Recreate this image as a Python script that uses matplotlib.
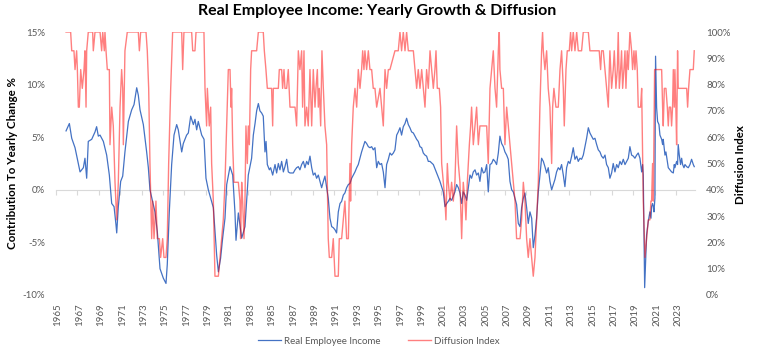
import numpy as np
import matplotlib
matplotlib.use("Agg")
import matplotlib.pyplot as plt
from matplotlib.ticker import FuncFormatter

plt.rcParams['font.family'] = ['Lato', 'DejaVu Sans']

# ---------------- data ----------------
income_years = [
    1965.94, 1966.25, 1966.47, 1966.78, 1967.09, 1967.25, 1967.56, 1967.71, 1967.87, 1968.02,
    1968.34, 1968.65, 1968.80, 1968.96, 1969.12, 1969.43, 1969.74, 1969.99, 1970.21, 1970.43,
    1970.61, 1970.68, 1970.83, 1971.05, 1971.24, 1971.45, 1971.77, 1972.08, 1972.30, 1972.55,
    1972.70, 1972.86, 1973.17, 1973.48, 1973.64, 1973.79, 1974.04, 1974.26, 1974.48, 1974.73,
    1975.04, 1975.29, 1975.41, 1975.60, 1975.82, 1976.04, 1976.29, 1976.44, 1976.76, 1976.91,
    1977.22, 1977.38, 1977.60, 1977.85, 1978.00, 1978.16, 1978.31, 1978.63, 1978.85, 1979.03,
    1979.25, 1979.47, 1979.72, 1980.03, 1980.19, 1980.40, 1980.59, 1980.81, 1980.97, 1981.28,
    1981.53, 1981.74, 1981.84, 1982.06, 1982.37, 1982.68, 1982.99,
    1983.15, 1983.30, 1983.46, 1983.62, 1983.77, 1983.93, 1984.08, 1984.24, 1984.39, 1984.55,
    1984.65, 1984.77, 1984.96, 1985.08, 1985.27, 1985.49, 1985.64, 1985.80, 1985.95, 1986.11,
    1986.27, 1986.42, 1986.58, 1986.73, 1986.89, 1987.20, 1987.36, 1987.51, 1987.67, 1987.82,
    1987.98, 1988.14, 1988.29, 1988.45, 1988.60, 1988.76, 1988.92, 1989.07, 1989.23, 1989.38,
    1989.54, 1989.70, 1989.85, 1990.01, 1990.16, 1990.32, 1990.47, 1990.63, 1990.79, 1990.94,
    1991.10, 1991.25, 1991.41, 1991.57, 1991.72, 1991.88, 1992.03, 1992.19, 1992.35, 1992.50,
    1992.66, 1992.81, 1992.97, 1993.13, 1993.28, 1993.44, 1993.59, 1993.75, 1993.90, 1994.06,
    1994.22, 1994.37, 1994.53, 1994.68, 1994.84, 1995.00, 1995.15, 1995.31, 1995.46, 1995.62,
    1995.78, 1995.93, 1996.09, 1996.24, 1996.40, 1996.56, 1996.71, 1996.87, 1997.02, 1997.18,
    1997.33, 1997.49, 1997.65, 1997.80, 1997.96, 1998.11, 1998.27, 1998.43, 1998.58, 1998.74,
    1998.89, 1999.05, 1999.21, 1999.36, 1999.52, 1999.67, 1999.83,
    1999.99, 2000.30, 2000.61, 2000.92, 2001.23, 2001.39, 2001.55, 2001.70, 2001.86, 2002.01,
    2002.17, 2002.32, 2002.48, 2002.64, 2002.79, 2002.95, 2003.10, 2003.26, 2003.42, 2003.57,
    2003.73, 2003.88, 2004.04, 2004.20, 2004.35, 2004.51, 2004.66, 2004.82, 2004.98, 2005.13,
    2005.29, 2005.44, 2005.60, 2005.75, 2005.91, 2006.07, 2006.22, 2006.38, 2006.53, 2006.69,
    2006.85, 2007.00, 2007.16, 2007.31, 2007.47, 2007.63, 2007.78, 2007.94, 2008.09, 2008.25,
    2008.41, 2008.56, 2008.72, 2008.87, 2009.03, 2009.18, 2009.34, 2009.50, 2009.65, 2009.81,
    2009.96, 2010.12, 2010.27, 2010.43, 2010.59, 2010.74, 2010.90, 2011.05, 2011.21, 2011.37,
    2011.52, 2011.68, 2011.83, 2011.99, 2012.15, 2012.30, 2012.46, 2012.61, 2012.77, 2012.93,
    2013.08, 2013.24, 2013.39, 2013.55, 2013.71, 2013.86, 2014.02, 2014.17, 2014.33, 2014.48,
    2014.64, 2014.80, 2014.95, 2015.11, 2015.26, 2015.42, 2015.58, 2015.73, 2015.89, 2016.04,
    2016.20, 2016.36, 2016.51, 2016.67, 2016.82,
    2016.98, 2017.13, 2017.29, 2017.45, 2017.60, 2017.76, 2017.91, 2018.07, 2018.23, 2018.38,
    2018.54, 2018.69, 2018.85, 2019.01, 2019.16, 2019.32, 2019.47, 2019.63, 2019.79, 2019.88,
    2019.94, 2020.00, 2020.07, 2020.19, 2020.25, 2020.41, 2020.56, 2020.66, 2020.72, 2020.81,
    2020.88, 2020.94, 2021.03, 2021.09, 2021.19, 2021.28, 2021.41, 2021.50, 2021.66, 2021.75,
    2021.81, 2021.97, 2022.06, 2022.19, 2022.28, 2022.44, 2022.59, 2022.75, 2022.84, 2022.90,
    2023.06, 2023.15, 2023.21, 2023.31, 2023.43, 2023.53, 2023.62, 2023.75, 2023.84, 2024.00,
    2024.15, 2024.31, 2024.46, 2024.62, 2024.71,
]
income_growth = [
    5.6, 6.3, 4.9, 4.0, 2.5, 1.7, 2.1, 3.0, 1.1, 4.6,
    4.8, 5.5, 6.0, 5.1, 5.2, 4.6, 3.3, 1.4, -1.3, -1.6,
    -3.3, -4.1, -1.6, 0.8, 1.3, 3.6, 6.5, 7.6, 8.1, 9.7,
    9.0, 7.6, 6.2, 3.6, 2.1, 0.0, -1.1, -2.1, -4.0, -7.5,
    -8.4, -8.9, -7.1, -2.1, 2.4, 5.2, 6.2, 5.7, 3.6, 4.4,
    5.2, 5.4, 7.0, 6.2, 6.7, 5.7, 6.5, 5.2, 4.8, 1.1,
    0.0, -0.8, -1.7, -6.2, -7.8, -6.5, -4.6, -2.7, 0.5, 2.2,
    1.4, -2.1, -4.8, -2.2, -4.6, -3.5, 1.4,
    2.2, 3.0, 5.2, 6.3, 7.5, 8.2, 7.5, 7.3, 7.0, 3.6,
    4.6, 2.4, 1.9, 2.1, 1.4, 2.4, 1.6, 2.5, 1.9, 2.7,
    1.7, 2.2, 2.9, 1.7, 1.6, 1.6, 1.9, 2.1, 2.2, 1.9,
    2.4, 2.7, 2.1, 2.7, 2.4, 3.2, 2.1, 1.4, 1.6, 1.1,
    1.4, 0.8, 0.2, 0.8, 1.3, 0.2, -0.8, -2.7, -3.5, -3.6,
    -3.8, -4.1, -2.1, -1.3, -1.1, -0.5, -0.3, 0.2, 0.5, 0.6,
    1.1, 1.4, 1.7, 2.1, 2.4, 3.0, 3.6, 4.1, 4.6, 4.4,
    4.1, 4.0, 4.1, 3.8, 4.0, 2.1, 2.7, 2.4, 2.5, 1.7,
    0.2, 2.4, 2.9, 3.5, 3.3, 3.5, 3.8, 5.2, 5.5, 5.9,
    5.2, 6.0, 6.3, 6.8, 6.2, 5.9, 5.5, 5.4, 5.1, 4.8,
    4.6, 4.1, 4.0, 3.5, 3.3, 3.2, 2.7,
    2.7, 2.4, 1.6, 0.8, -0.2, -1.6, -1.3, -1.1, -0.8, -1.0,
    -0.6, -0.2, 0.5, 0.2, -0.3, -1.3, -0.2, -0.5, -1.0, 0.2,
    1.4, 1.1, 1.7, 1.9, 1.4, 1.6, 0.8, 2.1, 1.6, 1.7,
    2.4, -0.2, 2.4, 2.5, 2.9, 2.7, 2.4, 3.5, 5.1, 4.4,
    4.1, 3.6, 3.3, 2.9, 0.8, 0.0, -0.2, -0.8, -1.4, -3.2,
    -3.5, -1.7, -0.8, -0.3, -1.7, -3.2, -2.1, -2.7, -5.5, -4.3,
    -2.7, -0.2, 1.4, 3.0, 2.7, 2.2, 1.6, 2.1, 0.8, 0.0,
    0.5, 1.0, 1.7, 2.1, 1.9, 2.4, 1.4, 0.3, 2.1, 2.7,
    2.5, 3.2, 4.0, 2.9, 3.2, 2.7, 3.0, 2.9, 3.3, 4.1,
    4.9, 5.9, 5.4, 5.1, 4.8, 4.9, 4.3, 3.8, 3.6, 3.2,
    3.0, 3.3, 2.4, 2.1, 1.1,
    1.6, 2.5, 1.7, 2.4, 2.1, 2.7, 2.4, 2.9, 2.4, 2.7,
    3.0, 4.1, 3.3, 3.2, 3.0, 3.3, 3.5, 3.0, 1.7, 2.4,
    1.4, -3.3, -9.3, -5.9, -4.3, -3.0, -2.1, -2.7, -1.6, -1.3,
    -1.6, -2.1, -0.8, 12.7, 7.8, 6.5, 6.2, 5.2, 4.8, 4.3,
    4.8, 3.3, 3.6, 2.7, 2.1, 1.9, 1.7, 1.6, 2.4, 2.1,
    2.7, 2.4, 4.3, 3.3, 2.4, 3.0, 2.4, 2.1, 2.4, 2.2,
    2.1, 2.4, 2.9, 2.4, 2.2,
]

# Diffusion index: number of components growing, out of 14
n_components = 14
diffusion_years = [
    1965.94, 1966.37, 1966.47, 1966.68, 1966.78, 1966.93, 1967.00, 1967.09, 1967.18, 1967.31,
    1967.46, 1967.62, 1967.71, 1967.81, 1967.87, 1968.02, 1968.43, 1968.49, 1968.65, 1969.12,
    1969.27, 1969.37, 1969.52, 1969.58, 1969.68, 1969.80, 1969.99, 1970.05, 1970.21, 1970.36,
    1970.52, 1970.68, 1970.83, 1970.99, 1971.14, 1971.24, 1971.30, 1971.45, 1971.67, 1972.70,
    1972.80, 1972.92, 1973.42, 1973.54, 1973.67, 1973.79, 1973.95, 1974.04, 1974.17, 1974.35,
    1974.48, 1974.67, 1974.79, 1974.98, 1975.10, 1975.29, 1975.41, 1975.54, 1975.73, 1975.91,
    1976.76, 1976.85, 1976.97, 1977.69, 1977.79, 1978.00, 1978.10, 1978.84, 1978.94, 1979.09,
    1979.16, 1979.34, 1979.47, 1979.56, 1979.72, 1979.87, 1980.19, 1980.34, 1980.50, 1980.65,
    1980.81, 1980.97, 1981.12,
    1981.28, 1981.37, 1981.43, 1981.53, 1981.65, 1982.06, 1982.21, 1982.27, 1982.37, 1982.46,
    1982.59, 1982.68, 1982.77, 1982.90, 1982.99, 1983.09, 1983.21, 1983.30, 1983.77, 1983.93,
    1984.39, 1984.49, 1984.64, 1984.77, 1985.17, 1985.27, 1985.33, 1985.80, 1985.89, 1986.11,
    1986.20, 1986.33, 1986.42, 1986.58, 1986.73, 1986.89, 1987.36, 1987.51, 1987.67, 1987.82,
    1987.98, 1988.07, 1988.20, 1988.29, 1988.45, 1988.60, 1988.76, 1988.92, 1989.07, 1989.23,
    1989.32, 1989.45, 1989.54, 1989.63, 1989.76, 1989.88, 1990.01, 1990.16, 1990.32, 1990.47,
    1990.57, 1990.79, 1990.94, 1991.10, 1991.41, 1991.50, 1991.72, 1991.88, 1992.03, 1992.19,
    1992.35, 1992.50, 1992.56, 1992.66, 1992.81, 1992.97, 1993.13, 1993.28, 1993.44, 1993.59,
    1993.69, 1993.81, 1993.90, 1994.06, 1994.22, 1994.37, 1994.53, 1994.68, 1994.84, 1995.00,
    1995.31, 1995.46, 1995.62, 1995.78, 1995.93, 1996.09, 1996.24, 1996.71, 1997.02, 1997.18,
    1997.33, 1997.49, 1997.65, 1997.80, 1997.96, 1998.43, 1998.58, 1998.74, 1998.89, 1999.05,
    1999.21, 1999.36, 1999.52, 1999.67, 1999.83,
    1999.99, 2000.14, 2000.30, 2000.45, 2000.55, 2000.67, 2000.86, 2000.98, 2001.08, 2001.23,
    2001.39, 2001.48, 2001.61, 2001.70, 2001.86, 2002.01, 2002.17, 2002.32, 2002.48, 2002.64,
    2002.79, 2002.95, 2003.10, 2003.26, 2003.35, 2003.48, 2003.67, 2003.79, 2003.88, 2004.04,
    2004.20, 2004.35, 2004.51, 2004.66, 2005.29, 2005.44, 2005.60, 2005.75, 2005.91, 2006.07,
    2006.22, 2006.38, 2006.47, 2006.53, 2006.69, 2006.85, 2007.00, 2007.16, 2007.31, 2007.47,
    2007.63, 2007.78, 2007.94, 2008.09, 2008.41, 2008.56, 2008.72, 2008.87, 2009.03, 2009.18,
    2009.34, 2009.50, 2009.65, 2009.81, 2009.96, 2010.12, 2010.27, 2010.43, 2010.52, 2010.59,
    2010.74, 2010.90, 2011.05, 2011.21, 2011.37, 2011.46, 2011.58, 2011.77, 2011.99, 2012.15,
    2012.30, 2012.46, 2012.55, 2012.71, 2012.83, 2013.02, 2013.14, 2013.24, 2013.39, 2013.55,
    2013.71, 2013.86, 2014.17, 2014.33, 2014.80, 2014.95, 2015.82, 2015.95, 2016.04, 2016.20,
    2016.36, 2016.51, 2016.67, 2016.76, 2016.82,
    2016.98, 2017.13, 2017.23, 2017.38, 2017.51, 2017.60, 2017.70, 2017.82, 2017.91, 2018.01,
    2018.13, 2018.23, 2018.32, 2018.44, 2018.54, 2018.69, 2018.85, 2018.94, 2019.07, 2019.16,
    2019.26, 2019.38, 2019.47, 2019.69, 2019.79, 2019.94, 2020.10, 2020.25, 2020.41, 2020.56,
    2020.66, 2020.72, 2020.81, 2020.88, 2021.00, 2021.66, 2021.75, 2021.81, 2021.91, 2022.06,
    2022.19, 2022.28, 2022.37, 2022.50, 2022.59, 2022.68, 2022.75, 2022.84, 2022.90, 2022.99,
    2023.06, 2023.15, 2023.21, 2023.37, 2024.00, 2024.09, 2024.18, 2024.31, 2024.62, 2024.71,
]
diffusion_counts = [
    14, 14, 13, 13, 12, 13, 12, 10, 10, 12,
    11, 12, 13, 10, 13, 14, 14, 13, 14, 14,
    13, 14, 13, 14, 13, 12, 12, 8, 10, 9,
    6, 4, 6, 10, 12, 11, 8, 13, 14, 14,
    13, 14, 14, 13, 11, 7, 3, 5, 3, 5,
    3, 3, 2, 3, 2, 2, 3, 7, 11, 14,
    14, 12, 14, 14, 13, 13, 14, 14, 11, 9,
    11, 9, 10, 7, 5, 1, 1, 2, 3, 4,
    6, 9, 12,
    12, 10, 11, 8, 6, 6, 5, 3, 6, 5,
    3, 5, 9, 7, 9, 8, 12, 13, 13, 14,
    14, 13, 12, 11, 11, 9, 11, 11, 12, 12,
    11, 12, 11, 11, 12, 10, 10, 9, 13, 12,
    13, 10, 13, 9, 10, 9, 12, 9, 12, 10,
    11, 12, 10, 11, 9, 13, 11, 9, 8, 3,
    2, 2, 3, 1, 1, 3, 3, 4, 5, 3,
    3, 7, 5, 8, 10, 11, 10, 12, 11, 12,
    13, 12, 13, 12, 13, 12, 12, 11, 11, 10,
    11, 10, 9, 12, 11, 12, 12, 13, 13, 14,
    13, 14, 13, 14, 13, 13, 12, 11, 12, 11,
    12, 11, 10, 12, 11,
    13, 12, 11, 12, 13, 11, 11, 10, 7, 6,
    5, 4, 7, 6, 5, 6, 5, 6, 9, 7,
    6, 3, 6, 5, 4, 6, 8, 9, 10, 8,
    9, 10, 8, 9, 9, 7, 11, 12, 13, 11,
    10, 13, 14, 12, 11, 11, 8, 10, 9, 8,
    7, 6, 5, 3, 3, 4, 6, 5, 3, 2,
    3, 2, 1, 2, 4, 6, 10, 13, 14, 13,
    12, 13, 11, 10, 7, 10, 11, 10, 10, 12,
    13, 11, 9, 12, 13, 13, 14, 13, 14, 13,
    14, 13, 13, 14, 14, 13, 13, 12, 13, 13,
    12, 11, 10, 12, 13,
    11, 12, 13, 11, 12, 14, 11, 12, 13, 11,
    12, 13, 11, 13, 12, 14, 13, 12, 13, 12,
    13, 12, 10, 10, 11, 5, 2, 3, 4, 4,
    5, 5, 7, 5, 12, 12, 10, 9, 11, 11,
    10, 9, 10, 10, 9, 10, 12, 10, 12, 10,
    8, 13, 11, 11, 11, 10, 11, 12, 12, 13,
]

tick_years = list(range(1965, 2024, 2))
left_ticks = [-10, -5, 0, 5, 10, 15]
right_ticks = list(range(0, 101, 10))

# ---------------- figure ----------------
W, H = 758, 353
fig = plt.figure(figsize=(W / 100, H / 100), dpi=100)
ax = fig.add_axes([56 / W, 1 - 295 / H, (695 - 56) / W, (295 - 32) / H])

grey = '#595959'
blue = '#4472C4'

ax.plot(income_years, income_growth, color=blue, lw=0.9, label='Real Employee Income', zorder=3)
ax.set_xlim(1965.0, 2024.78)
ax.set_ylim(-10, 15)
ax.set_yticks(left_ticks)
ax.yaxis.set_major_formatter(FuncFormatter(lambda v, p: f'{v:.0f}%'))
ax.tick_params(axis='y', length=0, pad=8, labelsize=7, labelcolor=grey)

for s in ['top', 'right', 'left']:
    ax.spines[s].set_visible(False)
ax.spines['bottom'].set_position(('data', 0))
ax.spines['bottom'].set_color('#D9D9D9')
ax.spines['bottom'].set_linewidth(0.8)
ax.set_xticks(tick_years)
ax.tick_params(axis='x', direction='out', length=3.5, width=0.8, color='#D9D9D9', labelbottom=False)

sec = ax.secondary_xaxis('bottom')
sec.set_xticks([y + 0.2 for y in tick_years])
sec.set_xticklabels([str(y) for y in tick_years], rotation=90)
sec.tick_params(length=0, pad=6, labelsize=7, labelcolor=grey)
sec.spines['bottom'].set_visible(False)

ax2 = ax.twinx()
diff_pct = [c / n_components * 100 for c in diffusion_counts]
ax2.plot(diffusion_years, diff_pct, color='#FF0000', alpha=0.5, lw=1.0, label='Diffusion Index', zorder=4)
ax2.set_ylim(0, 100)
ax2.set_yticks(right_ticks)
ax2.yaxis.set_major_formatter(FuncFormatter(lambda v, p: f'{v:.0f}%'))
ax2.tick_params(axis='y', length=0, pad=8, labelsize=7, labelcolor=grey)
for s in ax2.spines.values():
    s.set_visible(False)

fig.text(0.497, 1 - 11 / H, 'Real Employee Income: Yearly Growth & Diffusion',
         ha='center', va='center', fontsize=11.5, fontweight='bold', color='black')
fig.text(13 / W, 1 - 163 / H, 'Contribution To Yearly Change %', rotation=90,
         ha='center', va='center', fontsize=8.3, fontweight='bold', color='black')
fig.text(741 / W, 1 - 165 / H, 'Diffusion Index', rotation=90,
         ha='center', va='center', fontsize=8.3, fontweight='bold', color='black')

h1, l1 = ax.get_legend_handles_labels()
h2, l2 = ax2.get_legend_handles_labels()
leg = fig.legend(h1 + h2, l1 + l2, loc='center', bbox_to_anchor=(0.5, 1 - 341 / H),
                 ncol=2, frameon=False, fontsize=7, handlelength=2.4, columnspacing=2.8,
                 handletextpad=0.3, labelcolor=grey)

fig.savefig('out.png', dpi=100)
